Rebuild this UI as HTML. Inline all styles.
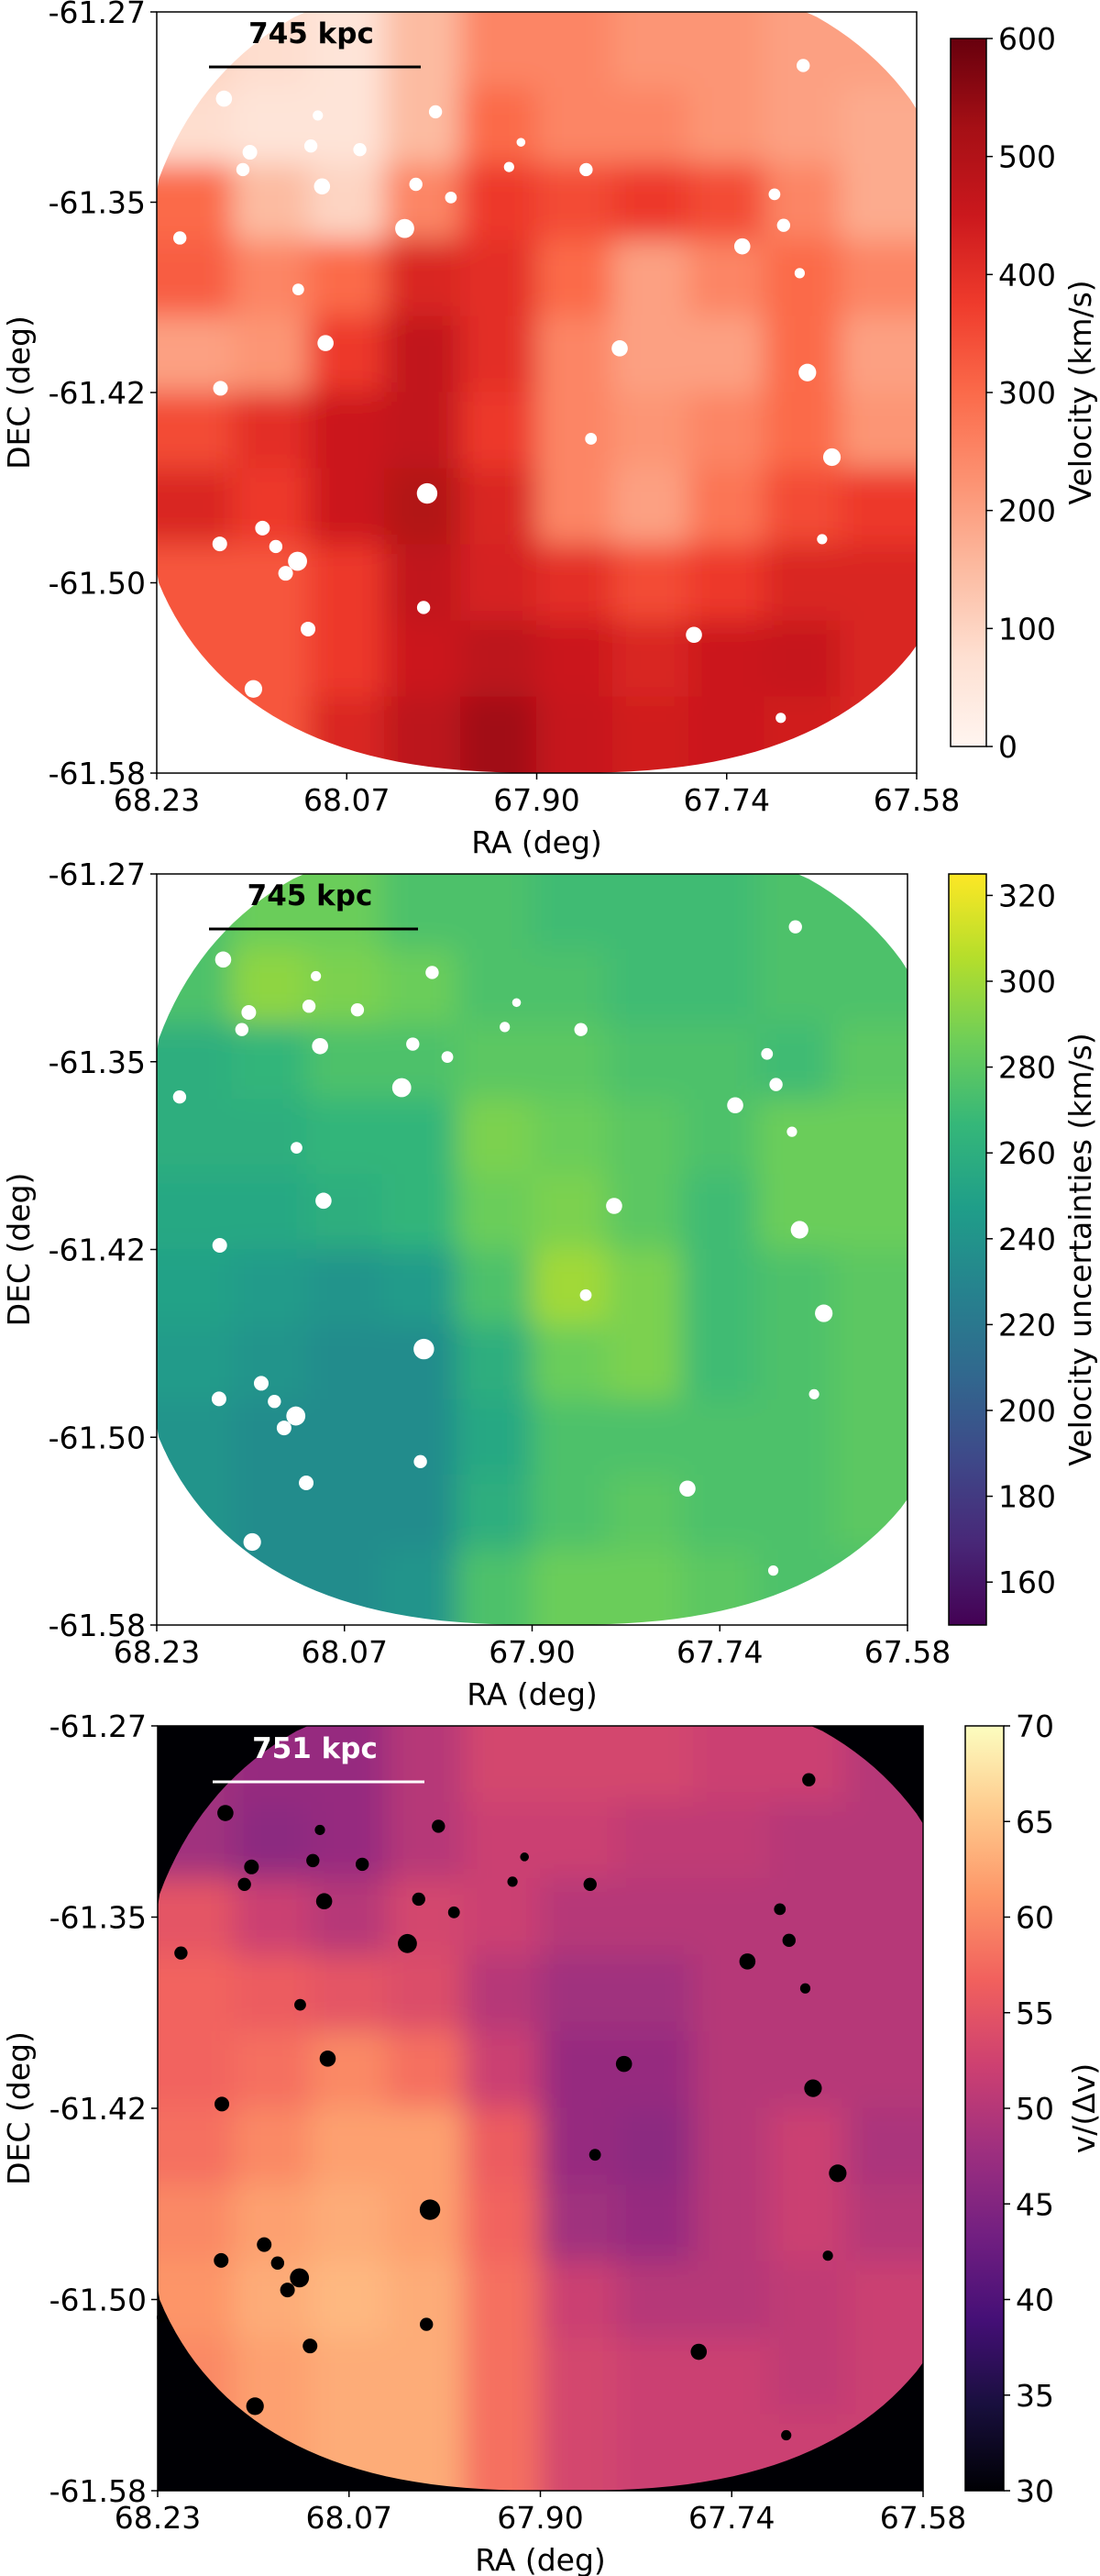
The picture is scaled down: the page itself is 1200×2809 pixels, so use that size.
<!DOCTYPE html>
<html><head><meta charset="utf-8"><style>
html,body{margin:0;padding:0;background:#fff;width:1200px;height:2809px;overflow:hidden}
svg text{font-family:"DejaVu Sans","Liberation Sans",sans-serif;}
</style></head><body>
<svg id="fig" xmlns="http://www.w3.org/2000/svg" width="1200" height="2809" viewBox="0 0 1200 2809"></svg>
<script>
// ---- data ----
const raTicks = ["68.23","68.07","67.90","67.74","67.58"];
const decTicks = ["-61.27","-61.35","-61.42","-61.50","-61.58"];
const velocityGrid = [
 [100,80,60,150,250,250,220,220,200,200],
 [80,60,60,150,300,250,250,220,200,180],
 [300,150,100,250,380,350,380,350,250,180],
 [320,250,300,420,400,300,200,250,300,250],
 [200,220,380,470,400,250,200,200,300,200],
 [350,400,450,470,380,250,220,250,300,220],
 [420,380,450,500,420,250,200,280,350,380],
 [330,330,380,470,430,400,350,380,420,420],
 [330,330,380,450,480,450,420,450,460,420],
 [330,330,420,480,530,460,440,450,440,420]];
const uncertaintyGrid = [
 [275,285,285,275,275,270,270,270,275,275],
 [275,295,290,285,275,275,270,270,275,275],
 [260,265,275,275,280,280,275,275,270,280],
 [260,260,265,265,290,285,280,275,285,285],
 [255,255,260,265,285,290,280,270,285,285],
 [250,245,240,245,275,300,290,270,275,280],
 [245,240,235,235,260,285,290,270,275,280],
 [240,235,235,235,255,275,275,275,275,280],
 [240,235,235,235,260,275,280,275,275,280],
 [240,235,235,240,275,285,285,280,275,275]];
const snrGrid = [
 [48,47,47,50,53,53,53,52,52,50],
 [48,46,47,50,52,52,51,51,50,50],
 [55,52,50,53,52,50,50,50,50,50],
 [57,56,55,54,50,48,48,50,50,50],
 [57,58,60,58,52,47,47,50,50,50],
 [58,60,62,62,56,47,46,50,52,49],
 [60,62,63,62,57,48,47,50,52,50],
 [61,63,64,63,58,52,50,50,51,52],
 [60,62,63,63,58,53,52,52,51,52],
 [60,62,63,63,58,53,52,52,52,52]];
const velocityTicks = [0,100,200,300,400,500,600];
const uncertaintyTicks = [160,180,200,220,240,260,280,300,320];
const snrTicks = [30,35,40,45,50,55,60,65,70];

const REDS=["#fff5f0","#fee0d2","#fcbba1","#fc9272","#fb6a4a","#ef3b2c","#cb181d","#a50f15","#67000d"];
const VIRIDIS=["#440154","#482878","#3e4989","#31688e","#26828e","#1f9e89","#35b779","#6ece58","#b5de2b","#fde725"];
const MAGMA=["#000004","#180f3d","#440f76","#721f81","#9e2f7f","#cd4071","#f1605d","#fd9668","#feca8d","#fcfdbf"];

const NS="http://www.w3.org/2000/svg";
const svg=document.getElementById('fig');
function mk(tag,attrs,parent){const e=document.createElementNS(NS,tag);for(const k in attrs)e.setAttribute(k,attrs[k]);(parent||svg).appendChild(e);return e;}
function hex(c){return [parseInt(c.slice(1,3),16),parseInt(c.slice(3,5),16),parseInt(c.slice(5,7),16)];}
function cmap(stops,t){t=Math.max(0,Math.min(1,t));const n=stops.length-1;const i=Math.min(n-1,Math.floor(t*n));const f=t*n-i;const a=hex(stops[i]),b=hex(stops[i+1]);return 'rgb('+a.map((v,k)=>Math.round(v+(b[k]-v)*f)).join(',')+')';}

// footprint outline (superellipse, fractions of the axes box)
function outlinePts(){
 const pts=[];const cx=0.525,cy=0.5,a=0.56,n=2.6;
 for(let i=0;i<=180;i++){
  const th=i/180*2*Math.PI;const c=Math.cos(th),s=Math.sin(th);
  const b=s<0?0.56:0.5;
  let x=cx+a*Math.sign(c)*Math.pow(Math.abs(c),2/n);
  let y=cy+b*Math.sign(s)*Math.pow(Math.abs(s),2/n);
  pts.push([Math.max(0,Math.min(1,x)),Math.max(0,Math.min(1,y))]);
 }
 return pts;
}
const outline=outlinePts();
const srcRaw=[[318,185,11],[452,217,7],[620,210,9],[355,287,10],[345,320,9],[442,275,9],[512,282,9],[458,352,11],[592,348,9],[642,373,8],[576,432,13],[725,315,7],[835,320,9],[742,268,6],[1145,122,9],[1104,367,8],[1117,426,9],[1058,466,11],[1140,517,7],[255,450,9],[424,548,8],[463,650,11],[883,660,11],[1151,706,12],[313,736,10],[842,832,8],[1186,867,12],[608,936,14],[373,1002,10],[312,1032,10],[392,1037,9],[423,1065,13],[406,1088,10],[1172,1023,7],[603,1153,9],[438,1194,10],[989,1205,11],[360,1308,12],[1113,1363,7],[228,1140,7]];

const panels=[
 {name:'velocity',grid:velocityGrid,cm:REDS,vmin:0,vmax:600,ticks:velocityTicks,x0:171,x1:1000,y0:13,y1:843,cx0:1037,cx1:1076,cy0:42,cy1:814,label:'Velocity (km/s)',bg:'#ffffff',dot:'#ffffff',ink:'#000',bar:'745 kpc',barY:73,barX0:228,barX1:459,cbl:1178},
 {name:'uncertainty',grid:uncertaintyGrid,cm:VIRIDIS,vmin:150,vmax:325,ticks:uncertaintyTicks,x0:171,x1:990,y0:953,y1:1772,cx0:1035,cx1:1076,cy0:953,cy1:1772,label:'Velocity uncertainties (km/s)',bg:'#ffffff',dot:'#ffffff',ink:'#000',bar:'745 kpc',barY:1013,barX0:228,barX1:456,cbl:1178},
 {name:'snr',grid:snrGrid,cm:MAGMA,vmin:30,vmax:70,ticks:snrTicks,x0:172,x1:1007,y0:1882,y1:2716,cx0:1053,cx1:1095,cy0:1882,cy1:2716,label:'v/(\u0394v)',bg:'#000004',dot:'#000000',ink:'#fff',bar:'751 kpc',barY:1943,barX0:232,barX1:463,cbl:1182}
];

const defs=mk('defs',{});
const flt=mk('filter',{id:'blur',x:'-20%',y:'-20%',width:'140%',height:'140%'},defs);
mk('feGaussianBlur',{stdDeviation:'16'},flt);

panels.forEach((p,pi)=>{
 const W=p.x1-p.x0,H=p.y1-p.y0;
 const g=mk('g',{});
 
 
 mk('rect',{x:p.x0,y:p.y0,width:W,height:H,fill:p.bg},g);
 const cp=mk('clipPath',{id:'clip'+pi},defs);
 mk('polygon',{points:outline.map(o=>(p.x0+o[0]*W).toFixed(1)+','+(p.y0+o[1]*H).toFixed(1)).join(' ')},cp);
 const clipG=mk('g',{'clip-path':'url(#clip'+pi+')'},g);
 const heat=mk('g',{filter:'url(#blur)'},clipG);
 
 
 const rows=p.grid.length,cols=p.grid[0].length;
 const xs=c=>p.x0+c*W/cols, ys=r=>p.y0+r*H/rows;
 const pad=80;
 p.grid.forEach((row,r)=>row.forEach((v,c)=>{
  let x=xs(c)-0.5,y=ys(r)-0.5,w=W/cols+1,h=H/rows+1;
  if(c===0){x-=pad;w+=pad;} if(c===cols-1){w+=pad;}
  if(r===0){y-=pad;h+=pad;} if(r===rows-1){h+=pad;}
  const cell=mk('rect',{x:x,y:y,width:w,height:h,fill:cmap(p.cm,(v-p.vmin)/(p.vmax-p.vmin))},heat);
  
  
 }));
 srcRaw.forEach(s=>{
  const d=mk('circle',{cx:p.x0+(s[0]-222)/1085*W,cy:p.y0+(s[1]-20)/1448*H,r:s[2]*0.8,fill:p.dot},g);
  
  
 });
 mk('rect',{x:p.x0,y:p.y0,width:W,height:H,fill:'none',stroke:'#000','stroke-width':1.5},g);
 const sb=mk('line',{x1:p.barX0,x2:p.barX1,y1:p.barY,y2:p.barY,stroke:p.ink,'stroke-width':3},g);
 
 
 const st=mk('text',{x:(p.barX0+p.barX1)/2-4,y:p.barY-26,'text-anchor':'middle','font-size':'31','font-weight':'bold',fill:p.ink},g);
 st.textContent=p.bar;
 
 
 raTicks.forEach((t,i)=>{
  const x=p.x0+i*W/(raTicks.length-1);
  mk('line',{x1:x,x2:x,y1:p.y1,y2:p.y1+7,stroke:'#000','stroke-width':1.5},g);
  const tx=mk('text',{x:x,y:p.y1+41,'text-anchor':'middle','font-size':'33'},g);
  tx.textContent=t;
  
  
 });
 decTicks.forEach((t,i)=>{
  const y=p.y0+i*H/(decTicks.length-1);
  mk('line',{x1:p.x0-7,x2:p.x0,y1:y,y2:y,stroke:'#000','stroke-width':1.5},g);
  const tx=mk('text',{x:p.x0-12,y:y+12,'text-anchor':'end','font-size':'33'},g);
  tx.textContent=t;
  
  
 });
 const xl=mk('text',{x:(p.x0+p.x1)/2,y:p.y1+87,'text-anchor':'middle','font-size':'33'},g);
 xl.textContent='RA (deg)';
 
 
 const yl=mk('text',{x:0,y:0,'text-anchor':'middle','font-size':'33',transform:'translate(32,'+((p.y0+p.y1)/2)+') rotate(-90)'},g);
 yl.textContent='DEC (deg)';
 
 
 const gid='grad'+pi;
 const lg=mk('linearGradient',{id:gid,x1:0,y1:1,x2:0,y2:0},defs);
 p.cm.forEach((c,i)=>mk('stop',{offset:(i/(p.cm.length-1)),'stop-color':c},lg));
 const cb=mk('rect',{x:p.cx0,y:p.cy0,width:p.cx1-p.cx0,height:p.cy1-p.cy0,fill:'url(#'+gid+')',stroke:'#000','stroke-width':1.5},g);
 
 
 const cy=v=>p.cy1-(v-p.vmin)/(p.vmax-p.vmin)*(p.cy1-p.cy0);
 p.ticks.forEach(t=>{
  const y=cy(t);
  mk('line',{x1:p.cx1,x2:p.cx1+7,y1:y,y2:y,stroke:'#000','stroke-width':1.5},g);
  const tx=mk('text',{x:p.cx1+13,y:y+12,'font-size':'33'},g);
  tx.textContent=String(t);
  
  
 });
 const cl=mk('text',{x:0,y:0,'text-anchor':'middle','font-size':'33',transform:'translate('+(p.cbl+12)+','+((p.cy0+p.cy1)/2)+') rotate(-90)'},g);
 cl.textContent=p.label;
 
 
});
</script>
</body></html>
